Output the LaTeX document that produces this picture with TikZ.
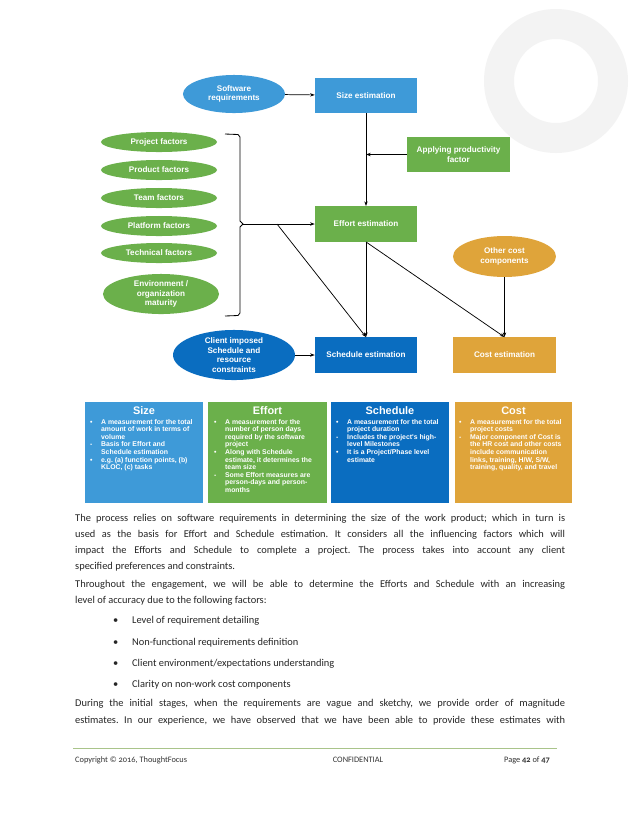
\documentclass[tikz,border=0pt]{standalone}
\usepackage{fontspec}
\setmainfont{Carlito}
\newfontfamily\arialfont{Liberation Sans}
\usetikzlibrary{arrows.meta,shapes.geometric,calc}
\definecolor{cLB}{HTML}{3E9AD8}
\definecolor{cGR}{HTML}{6BB04B}
\definecolor{cDB}{HTML}{0A6DC0}
\definecolor{cGD}{HTML}{DFA43A}
\definecolor{cRing}{HTML}{F3F3F3}
\definecolor{cRule}{HTML}{A9C48A}
\definecolor{cBody}{HTML}{262626}
\newcommand\blist[1]{\begin{tabular}{@{}p{10.5pt}@{}l@{}}#1\end{tabular}}
\frenchspacing
\begin{document}
\begin{tikzpicture}[x=0.9593pt,y=-0.9593pt,
  dg/.style={font=\arialfont\bfseries\fontsize{7.8}{9.2}\selectfont, text=white, align=center, inner sep=0pt},
  rbox/.style={dg, rectangle, minimum width=97.9pt, minimum height=34pt},
  ell/.style={dg, ellipse},
  fac/.style={ell, fill=cGR, minimum width=111.3pt, minimum height=19.2pt},
  conn/.style={draw=black, line width=0.7pt, -{Stealth[length=4.5pt,width=3.2pt]}},
  bigbox/.style={rectangle, minimum width=113pt, minimum height=97pt, anchor=north west, inner sep=0pt},
  hd/.style={font=\arialfont\bfseries\fontsize{10.5}{12}\selectfont, text=white, anchor=base, inner sep=0pt},
  lst/.style={font=\arialfont\bfseries\fontsize{6.6}{7.3}\selectfont, text=white, anchor=north west, inner sep=0pt},
  body/.style={font=\fontsize{10}{12}\selectfont, text=cBody, anchor=base west, inner sep=0pt},
  foot/.style={font=\fontsize{8}{10}\selectfont\addfontfeatures{Numbers=OldStyle}, text=black!80, anchor=base, inner sep=0pt}]
\useasboundingbox (0,0) rectangle (638,826);
\fill[white] (0,0) rectangle (638,826);
% watermark ring
\fill[cRing, even odd rule] (556,81) circle[radius=72] (556,81) circle[radius=42];

% flow diagram
\node[ell, fill=cLB, minimum width=97.9pt, minimum height=36.5pt] (sw) at (234,94) {Software\\requirements};
\node[rbox, fill=cLB] (size) at (366,95.5) {Size estimation};
\node[rbox, fill=cGR, minimum width=98.8pt] (apply) at (458.5,154.5) {Applying productivity\\factor};
\node[rbox, fill=cGR] (effort) at (366,224) {Effort estimation};
\node[rbox, fill=cDB] (sched) at (366,355) {Schedule estimation};
\node[rbox, fill=cGD, minimum width=98.8pt] (cost) at (504.5,355) {Cost estimation};
\node[ell, fill=cGD, minimum width=98.8pt, minimum height=39.3pt] (other) at (504.5,256.5) {Other cost\\components};
\node[ell, fill=cDB, minimum width=117pt, minimum height=48pt] (client) at (234,355) {Client imposed\\Schedule and\\resource\\constraints};

\node[fac] (f1) at (159,142) {Project factors};
\node[fac] (f2) at (159,170) {Product factors};
\node[fac] (f3) at (159,198) {Team factors};
\node[fac] (f4) at (159,226) {Platform factors};
\node[fac] (f5) at (159,253) {Technical factors};
\node[fac, minimum height=38.4pt] (f6) at (161,294) {Environment /\\organization\\maturity};

\draw[line width=0.8pt] (225,134) -- (238,134.5) -- (240,137) -- (240,221) -- (243,224) -- (240,227) -- (240,313) -- (238,315.5) -- (225,316);
\coordinate (brtip) at (243,224);
\coordinate (branch) at (277,224);

\draw[conn] (sw) -- (size);
\draw[conn] (size.south) -- (effort.north);
\draw[conn] (apply.west) -- (apply.west -| size.south);
\draw[conn] (brtip) -- (effort.west);
\draw[conn] (branch) -- (sched.north);
\draw[conn] (effort.south) -- (sched.north);
\draw[conn] (effort.south) -- (cost.north);
\draw[conn] (other.south) -- (cost.north);
\draw[conn] (client.east) -- (sched.west);

% definition boxes
\node[bigbox, fill=cLB] (bsize) at (85,402) {};
\node[bigbox, fill=cGR, minimum width=114pt] (beffort) at (208,402) {};
\node[bigbox, fill=cDB] (bsched) at (331,402) {};
\node[bigbox, fill=cGD, minimum width=112pt] (bcost) at (455,402) {};

\node[hd] (hsize) at (144,414) {Size};
\node[hd] (heffort) at (267.5,414) {Effort};
\node[hd] (hsched) at (390,414) {Schedule};
\node[hd] (hcost) at (513.5,414) {Cost};

\node[lst] (lsize) at (90,418.5) {\blist{\textbullet & A measurement for the total\\
 & amount of work in terms of\\ & volume\\
 - & Basis for Effort and\\ & Schedule estimation\\
 \textbullet & e.g. (a) function points, (b)\\ & KLOC, (c) tasks}};
\node[lst] (leffort) at (214,418.5) {\blist{\textbullet & A measurement for the\\
 & number of person days\\ & required by the software\\ & project\\
 \textbullet & Along with Schedule\\ & estimate, it determines the\\ & team size\\
 - & Some Effort measures are\\ & person-days and person-\\ & months}};
\node[lst] (lsched) at (336,418.5) {\blist{\textbullet & A measurement for the total\\
 & project duration\\
 - & Includes the project's high-\\ & level Milestones\\
 \textbullet & It is a Project/Phase level\\ & estimate}};
\node[lst] (lcost) at (459,418.5) {\blist{\textbullet & A measurement for the total\\
 & project costs\\
 - & Major component of Cost is\\ & the HR cost and other costs\\ & include communication\\
 & links, training, H/W, S/W,\\ & training, quality, and travel}};

% body text
\node[body] (p1a) at (75,521) {\makebox[470pt][s]{The process relies on software requirements in determining the size of the work product; which in turn is}};
\node[body] (p1b) at (75,537) {\makebox[470pt][s]{used as the basis for Effort and Schedule estimation. It considers all the influencing factors which will}};
\node[body] (p1c) at (75,553) {\makebox[470pt][s]{impact the Efforts and Schedule to complete a project. The process takes into account any client}};
\node[body] (p1d) at (75,569) {specified preferences and constraints.};
\node[body] (p2a) at (75,587) {\makebox[470pt][s]{Throughout the engagement, we will be able to determine the Efforts and Schedule with an increasing}};
\node[body] (p2b) at (75,603) {level of accuracy due to the following factors:};
\node[body] (b1) at (113,623) {\makebox[18.2pt][l]{\textbullet}Level of requirement detailing};
\node[body] (b2) at (113,645) {\makebox[18.2pt][l]{\textbullet}Non-functional requirements definition};
\node[body] (b3) at (113,666) {\makebox[18.2pt][l]{\textbullet}Client environment/expectations understanding};
\node[body] (b4) at (113,687) {\makebox[18.2pt][l]{\textbullet}Clarity on non-work cost components};
\node[body] (p3a) at (75,706) {\makebox[470pt][s]{During the initial stages, when the requirements are vague and sketchy, we provide order of magnitude}};
\node[body] (p3b) at (75,723) {\makebox[470pt][s]{estimates. In our experience, we have observed that we have been able to provide these estimates with}};

% footer
\draw[cRule, line width=0.6pt] (73,748) -- (557,748);
\node[foot, anchor=base west] (fl) at (75,762) {Copyright © 2016, ThoughtFocus};
\node[foot] (fc) at (358,762) {CONFIDENTIAL};
\node[foot, anchor=base east] (fr) at (550,762) {Page \textbf{42} of \textbf{47}};
\end{tikzpicture}
\end{document}
